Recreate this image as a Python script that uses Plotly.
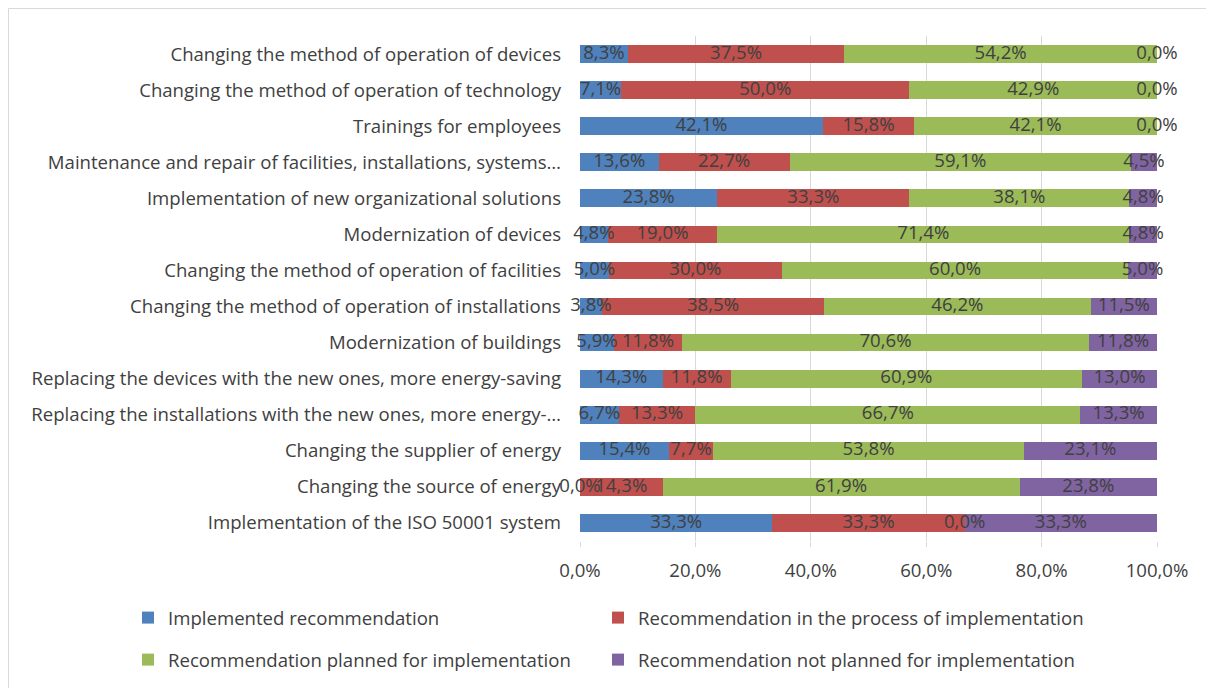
import plotly.graph_objects as go

categories = [
    "Changing the method of operation of devices",
    "Changing the method of operation of technology",
    "Trainings for employees",
    "Maintenance and repair of facilities, installations, systems…",
    "Implementation of new organizational solutions",
    "Modernization of devices",
    "Changing the method of operation of facilities",
    "Changing the method of operation of installations",
    "Modernization of buildings",
    "Replacing the devices with the new ones, more energy-saving",
    "Replacing the installations with the new ones, more energy-…",
    "Changing the supplier of energy",
    "Changing the source of energy",
    "Implementation of the ISO 50001 system",
]

implemented = [8.3, 7.1, 42.1, 13.6, 23.8, 4.8, 5.0, 3.8, 5.9, 14.3, 6.7, 15.4, 0.0, 33.3]
in_process = [37.5, 50.0, 15.8, 22.7, 33.3, 19.0, 30.0, 38.5, 11.8, 11.8, 13.3, 7.7, 14.3, 33.3]
planned = [54.2, 42.9, 42.1, 59.1, 38.1, 71.4, 60.0, 46.2, 70.6, 60.9, 66.7, 53.8, 61.9, 0.0]
not_planned = [0.0, 0.0, 0.0, 4.5, 4.8, 4.8, 5.0, 11.5, 11.8, 13.0, 13.3, 23.1, 23.8, 33.3]

series_names = [
    "Implemented recommendation",
    "Recommendation in the process of implementation",
    "Recommendation planned for implementation",
    "Recommendation not planned for implementation",
]
series_values = [implemented, in_process, planned, not_planned]
colors = ["#4F81BD", "#C0504D", "#9BBB59", "#8064A2"]
legend_ids = ["legend", "legend2", "legend3", "legend4"]
# legend item positions (page pixels: x of legend box, y of row centre)
legend_pos = [(128, 618), (598, 618), (128, 660), (598, 660)]

x_ticks = [0, 20, 40, 60, 80, 100]
x_tick_text = ["0,0%", "20,0%", "40,0%", "60,0%", "80,0%", "100,0%"]

FONT = "Open Sans"
FS = 18.6
TXT = "#404040"

# page is offset by the 8px body margin of the html page
OFF = 8
W, H = 1214 - OFF, 688 - OFF
ML, MR, MT, MB = 580 - OFF, 1214 - 1157, 36 - OFF, 688 - 541
PW = W - ML - MR
PH = H - MT - MB


def px_x(page_px):
    return (page_px - OFF - ML) / PW


def px_y(page_py):
    return (H - MB - (page_py - OFF)) / PH


# 100% stacked: normalise each row to its total
totals = [sum(vals) for vals in zip(*series_values)]

fig = go.Figure()
starts = [0.0] * len(categories)
label_traces = []
for name, vals, col, lg in zip(series_names, series_values, colors, legend_ids):
    norm = [v / t * 100 for v, t in zip(vals, totals)]
    fig.add_trace(go.Bar(
        y=categories,
        x=norm,
        name=name,
        orientation="h",
        marker=dict(color=col, line=dict(width=0)),
        hovertext=[f"{v:.1f}%".replace(".", ",") for v in vals],
        legend=lg,
    ))
    mids = [s + n / 2 for s, n in zip(starts, norm)]
    label_traces.append(go.Scatter(
        y=categories,
        x=mids,
        mode="text",
        text=[f"{v:.1f}%".replace(".", ",") for v in vals],
        textposition="middle center",
        textfont=dict(family=FONT, size=FS, color=TXT),
        showlegend=False,
        cliponaxis=False,
        hoverinfo="skip",
    ))
    starts = [s + n for s, n in zip(starts, norm)]

for tr in label_traces:
    fig.add_trace(tr)

legend_layouts = {}
for lg, (lx, ly) in zip(legend_ids, legend_pos):
    legend_layouts[lg] = dict(
        orientation="v",
        xanchor="left",
        yanchor="middle",
        x=px_x(lx),
        y=px_y(ly),
        font=dict(family=FONT, size=FS, color=TXT),
        itemwidth=30,
        bgcolor="rgba(0,0,0,0)",
    )

fig.update_layout(
    barmode="stack",
    bargap=0.51,
    width=W,
    height=H,
    margin=dict(l=ML, r=MR, t=MT, b=MB, autoexpand=False),
    paper_bgcolor="white",
    plot_bgcolor="white",
    font=dict(family=FONT, size=FS, color=TXT),
    xaxis=dict(
        range=[0, 100],
        tickvals=x_ticks,
        ticktext=x_tick_text,
        showgrid=True,
        gridcolor="#D9D9D9",
        gridwidth=1,
        zeroline=False,
        ticks="outside",
        ticklen=5,
        tickcolor="#D9D9D9",
        ticklabelstandoff=8,
        tickfont=dict(family=FONT, size=FS, color=TXT),
        showline=False,
        fixedrange=True,
    ),
    yaxis=dict(
        range=[len(categories) - 0.5, -0.5],
        autorange=False,
        showgrid=False,
        ticks="",
        ticklabelstandoff=18,
        tickfont=dict(family=FONT, size=FS, color=TXT),
        fixedrange=True,
    ),
    shapes=[dict(
        type="rect", xref="paper", yref="paper",
        x0=(0.5 - ML) / PW, x1=(W + 20 - ML) / PW,
        y0=(H - MB - 0.5) / PH, y1=(H - MB - (H + 20)) / PH,
        line=dict(color="#D9D9D9", width=1), fillcolor="rgba(0,0,0,0)",
        layer="below",
    )],
    **legend_layouts,
)

fig.write_html("out.html")
